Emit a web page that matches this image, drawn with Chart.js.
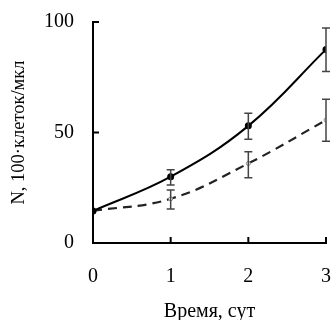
<!DOCTYPE html>
<html><head><meta charset="utf-8">
<script src="https://cdn.jsdelivr.net/npm/chart.js@4/dist/chart.umd.min.js"></script>
<style>html,body{margin:0;padding:0;background:#fff}#w{width:331px;height:320px}</style>
</head><body><div id="w"><canvas id="c"></canvas></div>
<script>
const days = [0, 1, 2, 3];
const solidMean = [14.5, 30, 53, 87.6];
const solidLow = [14.5, 26.2, 47, 77.6];
const solidHigh = [14.5, 33.2, 58.7, 97.3];
const dashMean = [14.5, 20, 36, 55.6];
const dashLow = [14.5, 15.4, 29.5, 46];
const dashHigh = [14.5, 24, 41.3, 65];
const yTicks = [0, 50, 100];
const xTicks = [0, 1, 2, 3];

const font = 'Liberation Serif, Times New Roman, serif';

const errorBars = {
  id: 'errorBars',
  afterDatasetsDraw(chart) {
    const ctx = chart.ctx, xs = chart.scales.x, ys = chart.scales.y;
    ctx.save();
    ctx.strokeStyle = '#444';
    ctx.lineWidth = 1.5;
    const sets = [[solidLow, solidHigh], [dashLow, dashHigh]];
    sets.forEach(([lo, hi]) => {
      days.forEach((d, i) => {
        if (lo[i] === hi[i]) return;
        const x = xs.getPixelForValue(d);
        const y1 = ys.getPixelForValue(lo[i]), y2 = ys.getPixelForValue(hi[i]);
        ctx.beginPath();
        ctx.moveTo(x, y1); ctx.lineTo(x, y2);
        ctx.moveTo(x - 4, y1); ctx.lineTo(x + 4, y1);
        ctx.moveTo(x - 4, y2); ctx.lineTo(x + 4, y2);
        ctx.stroke();
      });
    });
    ctx.strokeStyle = '#000';
    ctx.lineWidth = 2;
    ctx.beginPath();
    yTicks.forEach(v => {
      if (v === 0) return;
      const y = ys.getPixelForValue(v);
      ctx.moveTo(xs.left, y); ctx.lineTo(xs.left + 6, y);
    });
    xTicks.forEach(v => {
      if (v === 0) return;
      const x = xs.getPixelForValue(v);
      ctx.moveTo(x, ys.bottom); ctx.lineTo(x, ys.bottom - 6);
    });
    ctx.stroke();
    ctx.restore();
  }
};

function noPad(s) { s.paddingLeft = 0; s.paddingRight = 0; s.paddingTop = 0; s.paddingBottom = 0; }

new Chart(document.getElementById('c'), {
  type: 'line',
  data: {
    datasets: [
      {
        data: days.map((d, i) => ({x: d, y: solidMean[i]})),
        borderColor: '#000', borderWidth: 2, tension: 0.4,
        pointRadius: 3.5, pointBackgroundColor: '#000', pointBorderColor: '#000', pointBorderWidth: 0
      },
      {
        data: days.map((d, i) => ({x: d, y: dashMean[i]})),
        borderColor: '#222', borderWidth: 2.2, borderDash: [9, 6], tension: 0.4,
        pointRadius: 2, pointBackgroundColor: '#fff', pointBorderColor: '#888', pointBorderWidth: 1
      }
    ]
  },
  options: {
    responsive: true, maintainAspectRatio: false, animation: false,
    layout: {padding: {top: 22, right: 5, left: 0, bottom: 0}},
    plugins: {legend: {display: false}, tooltip: {enabled: false}},
    scales: {
      x: {
        type: 'linear', min: 0, max: 3,
        afterFit(s) { s.height = 77; noPad(s); },
        afterBuildTicks(s) { s.ticks = xTicks.map(v => ({value: v})); },
        grid: {display: false, drawTicks: false},
        border: {display: true, color: '#000', width: 2},
        ticks: {color: '#000', font: {family: font, size: 20}, padding: 22, maxRotation: 0},
        title: {display: true, text: 'Время, сут', color: '#000', font: {family: font, size: 20}, padding: {top: 0, bottom: -4}}
      },
      y: {
        min: 0, max: 100,
        afterFit(s) { s.width = 93; noPad(s); },
        afterBuildTicks(s) { s.ticks = yTicks.map(v => ({value: v})); },
        grid: {display: false, drawTicks: false},
        border: {display: true, color: '#000', width: 2},
        ticks: {color: '#000', font: {family: font, size: 20}, padding: 19},
        title: {display: true, text: 'N, 100·клеток/мкл', color: '#000', font: {family: font, size: 18.5}, padding: {top: 8, bottom: 0}}
      }
    }
  },
  plugins: [errorBars]
});
</script></body></html>
